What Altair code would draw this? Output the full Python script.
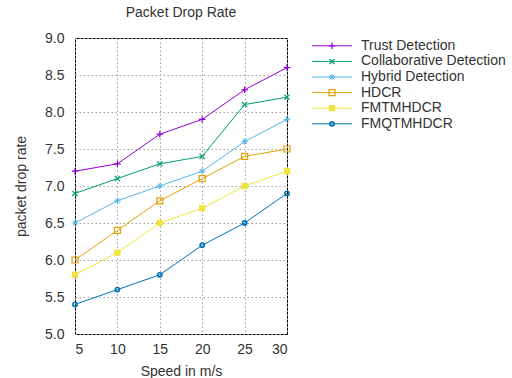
import altair as alt
import pandas as pd

speeds = [5, 10, 15, 20, 25, 30]
series_names = ["Trust Detection", "Collaborative Detection", "Hybrid Detection",
                "HDCR", "FMTMHDCR", "FMQTMHDCR"]
trust = [7.2, 7.3, 7.7, 7.9, 8.3, 8.6]
collab = [6.9, 7.1, 7.3, 7.4, 8.1, 8.2]
hybrid = [6.5, 6.8, 7.0, 7.2, 7.6, 7.9]
hdcr = [6.0, 6.4, 6.8, 7.1, 7.4, 7.5]
fmtm = [5.8, 6.1, 6.5, 6.7, 7.0, 7.2]
fmqtm = [5.4, 5.6, 5.8, 6.2, 6.5, 6.9]
y_ticks = [5.0, 5.5, 6.0, 6.5, 7.0, 7.5, 8.0, 8.5, 9.0]
colors = ["#9400d3", "#009e73", "#56b4e9", "#e69f00", "#f0e442", "#0072b2"]

PLUS = "M-1,0L1,0M0,-1L0,1"
CROSS = "M-0.8,-0.8L0.8,0.8M-0.8,0.8L0.8,-0.8"
STAR = "M-1,0L1,0M0,-1L0,1M-0.7,-0.7L0.7,0.7M-0.7,0.7L0.7,-0.7"
styles = [  # shape, size, filled, strokeWidth
    (PLUS, 42, False, 1.2),
    (CROSS, 42, False, 1.2),
    (STAR, 42, False, 1.0),
    ("square", 36, False, 1.2),
    ("square", 40, True, 0),
    ("circle", 18, False, 1.6),
]

rows = []
for name, vals in zip(series_names, [trust, collab, hybrid, hdcr, fmtm, fmqtm]):
    for s, v in zip(speeds, vals):
        rows.append({"speed": s, "value": v, "series": name})
df = pd.DataFrame(rows)

FONT = "Liberation Sans"
TXT = "#333333"
FS = 14

color_scale = alt.Scale(domain=series_names, range=colors)

x_scale = alt.Scale(domain=[5, 30], nice=False)
y_scale = alt.Scale(domain=[5, 9], nice=False, zero=False)
x_enc = alt.X("speed:Q", scale=x_scale,
              axis=alt.Axis(values=speeds, tickCount=10, title="Speed in m/s", grid=True,
                            labelPadding=8, titlePadding=8, ticks=False, domain=False))
y_enc = alt.Y("value:Q", scale=y_scale,
              axis=alt.Axis(values=y_ticks, tickCount=20, format=".1f",
                            title="packet drop rate", grid=True, labelPadding=11,
                            titlePadding=16, ticks=False, domain=False))

base = alt.Chart(df)
layers = [base.mark_line(strokeWidth=1).encode(
    x=x_enc, y=y_enc,
    color=alt.Color("series:N", scale=color_scale, legend=None),
    detail="series:N",
)]
for name, (shape, size, filled, sw) in zip(series_names, styles):
    layers.append(
        base.transform_filter(alt.datum.series == name).mark_point(
            shape=shape, size=size, filled=filled, strokeWidth=sw, opacity=1
        ).encode(
            x="speed:Q", y="value:Q",
            color=alt.Color("series:N", scale=color_scale, legend=None),
        )
    )

main = alt.layer(*layers).properties(
    width=212, height=296,
    title=alt.TitleParams("Packet Drop Rate", font=FONT, fontSize=FS,
                          fontWeight="normal", color=TXT, offset=11),
)

# legend panel
leg_df = pd.DataFrame({"series": series_names, "x0": [0] * 6, "x1": [1] * 6,
                       "xm": [0.5] * 6})
lx = alt.Scale(domain=[0, 1], nice=False)
ly = alt.Scale(domain=series_names, type="point", padding=0.5)
lbase = alt.Chart(leg_df)
leg_layers = [lbase.mark_rule(strokeWidth=1).encode(
    x=alt.X("x0:Q", scale=lx, axis=None), x2="x1:Q",
    y=alt.Y("series:N", scale=ly, axis=None),
    color=alt.Color("series:N", scale=color_scale, legend=None),
)]
for name, (shape, size, filled, sw) in zip(series_names, styles):
    leg_layers.append(
        lbase.transform_filter(alt.datum.series == name).mark_point(
            shape=shape, size=size, filled=filled, strokeWidth=sw, opacity=1
        ).encode(
            x=alt.X("xm:Q", scale=lx, axis=None),
            y=alt.Y("series:N", scale=ly, axis=None),
            color=alt.Color("series:N", scale=color_scale, legend=None),
        )
    )
leg_layers.append(lbase.mark_text(align="left", baseline="middle", dx=9, font=FONT,
                                  fontSize=FS, color=TXT).encode(
    x=alt.X("x1:Q", scale=lx, axis=None),
    y=alt.Y("series:N", scale=ly, axis=None),
    text="series:N",
))
legend_panel = alt.layer(*leg_layers).properties(
    width=40, height=93.6, view=alt.ViewConfig(stroke=None)
)

chart = alt.hconcat(main, legend_panel, spacing=17).resolve_scale(
    x="independent", y="independent", color="shared"
).configure_view(stroke="black", strokeWidth=1).configure_axis(
    labelFont=FONT, titleFont=FONT, labelFontSize=FS, titleFontSize=FS,
    labelColor=TXT, titleColor=TXT, titleFontWeight="normal",
    gridColor="#a0a0a0", gridDash=[1.5, 2.5], gridWidth=1, gridOpacity=1,
).properties(padding={"left": 14, "top": 5, "right": 5, "bottom": 5})

chart.save("out.html", embed_options={"renderer": "svg", "actions": False})
